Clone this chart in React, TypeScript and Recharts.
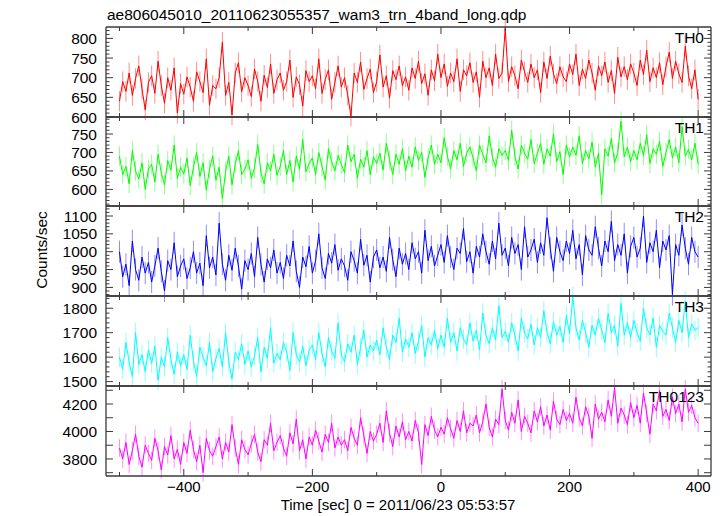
import React from 'react';
import { LineChart, Line, XAxis, YAxis, ErrorBar } from 'recharts';

// light curve bins: 5 s, starting at -500 s
const T_START = -500;
const T_STEP = 5;

const th0 = [
  640, 690, 665, 712, 655, 698, 730, 672, 618, 688,
  705, 660, 742, 680, 635, 700, 668, 725, 610, 685,
  658, 702, 676, 640, 715, 690, 662, 748, 630, 680,
  672, 700, 790, 655, 688, 605, 712, 738, 664, 700,
  680, 652, 722, 690, 640, 706, 675, 735, 660, 695,
  712, 668, 690, 745, 650, 702, 682, 628, 718, 690,
  705, 672, 748, 660, 695, 720, 645, 688, 730, 676,
  700, 655, 602, 712, 688, 740, 670, 698, 722, 662,
  690, 758, 676, 705, 648, 718, 695, 730, 680, 702,
  668, 725, 698, 742, 685, 710, 655, 720, 692, 760,
  700, 735, 678, 712, 690, 748, 665, 720, 705, 738,
  688, 715, 650, 742, 700, 725, 680, 760, 698, 712,
  825, 690, 728, 705, 672, 745, 715, 688, 735, 700,
  720, 662, 740, 698, 755, 710, 685, 728, 702, 690,
  735, 708, 760, 680, 722, 698, 745, 712, 668, 730,
  705, 740, 688, 718, 660, 752, 702, 728, 695, 735,
  712, 680, 745, 708, 770, 690, 725, 700, 738, 682,
  728, 765, 698, 742, 710, 688, 780, 705, 672, 720,
  645,
];

const th1 = [
  690, 640, 662, 615, 705, 650, 628, 672, 600, 655,
  668, 620, 695, 645, 612, 678, 652, 720, 630, 660,
  642, 685, 610, 660, 700, 635, 672, 598, 655, 690,
  625, 660, 575, 648, 690, 612, 668, 705, 640, 655,
  680, 630, 658, 722, 645, 615, 672, 650, 695, 638,
  662, 705, 640, 678, 620, 690, 655, 735, 648, 670,
  685, 640, 700, 662, 625, 710, 675, 650, 692, 668,
  645, 720, 675, 695, 630, 682, 660, 705, 640, 688,
  670, 698, 652, 725, 680, 640, 695, 668, 710, 650,
  690, 660, 715, 678, 700, 632, 685, 720, 668, 695,
  672, 740, 690, 655, 705, 680, 725, 662, 698, 715,
  685, 650, 720, 695, 672, 745, 688, 660, 710, 692,
  705, 678, 760, 690, 655, 720, 698, 682, 735, 670,
  698, 725, 668, 710, 690, 750, 675, 702, 640, 720,
  688, 715, 692, 745, 670, 705, 682, 728, 660, 698,
  585, 710, 690, 738, 672, 700, 785, 688, 715, 675,
  705, 680, 725, 692, 748, 670, 710, 695, 730, 662,
  700, 735, 685, 715, 672, 770, 690, 708, 680, 725,
  668,
];

const th2 = [
  1000, 930, 965, 905, 1030, 950, 920, 985, 940, 970,
  915, 960, 1010, 945, 890, 975, 950, 1025, 930, 960,
  980, 925, 955, 1000, 940, 968, 905, 1045, 955, 985,
  935, 1080, 965, 920, 990, 948, 1010, 960, 895, 975,
  950, 995, 930, 1040, 965, 915, 980, 955, 1005, 940,
  970, 925, 990, 960, 1030, 945, 900, 985, 958, 1015,
  940, 975, 1050, 955, 925, 995, 968, 1020, 948, 980,
  960, 920, 1000, 975, 940, 1035, 962, 990, 915, 985,
  1005, 955, 985, 945, 1040, 978, 930, 1010, 965, 995,
  950, 1025, 980, 1000, 940, 1060, 975, 1015, 960, 990,
  1020, 970, 1045, 985, 950, 1010, 995, 1065, 972, 1000,
  940, 1015, 985, 1050, 1000, 965, 1030, 980, 1080, 990,
  1010, 960, 1040, 995, 1020, 950, 1070, 985, 1005, 1035,
  970, 1025, 990, 1095, 1010, 945, 1040, 1000, 975, 1030,
  995, 1060, 980, 1020, 935, 1045, 1005, 990, 1070, 1010,
  960, 1030, 1000, 1085, 975, 1020, 990, 1050, 940, 1015,
  1040, 985, 1010, 1100, 970, 1025, 1000, 1060, 955, 1030,
  1005, 1045, 880, 1020, 990, 1075, 1010, 965, 1040, 1000,
  985,
];

const th3 = [
  1600, 1550, 1660, 1580, 1520, 1700, 1570, 1610, 1540, 1630,
  1575, 1645, 1505, 1600, 1560, 1680, 1590, 1530, 1620, 1565,
  1610, 1550, 1690, 1585, 1520, 1640, 1600, 1565, 1660, 1540,
  1595, 1635, 1560, 1700, 1580, 1510, 1620, 1590, 1655, 1570,
  1625, 1560, 1605, 1680, 1540, 1640, 1595, 1720, 1575, 1615,
  1590, 1660, 1620, 1545, 1700, 1610, 1580, 1645, 1565, 1630,
  1650, 1590, 1700, 1615, 1560, 1680, 1625, 1595, 1740, 1610,
  1580, 1655, 1620, 1690, 1570, 1640, 1710, 1600, 1650, 1625,
  1670, 1610, 1720, 1640, 1590, 1690, 1660, 1760, 1620, 1675,
  1640, 1700, 1615, 1665, 1730, 1600, 1680, 1650, 1710, 1635,
  1690, 1640, 1760, 1660, 1700, 1625, 1720, 1675, 1650, 1740,
  1665, 1710, 1630, 1780, 1690, 1655, 1720, 1670, 1810, 1680,
  1705, 1660, 1740, 1690, 1625, 1760, 1700, 1675, 1735, 1650,
  1720, 1680, 1790, 1700, 1655, 1745, 1690, 1725, 1660, 1770,
  1695, 1848, 1720, 1670, 1750, 1700, 1640, 1730, 1690, 1760,
  1710, 1660, 1780, 1700, 1730, 1645, 1820, 1690, 1740, 1680,
  1750, 1700, 1665, 1800, 1720, 1690, 1760, 1640, 1730, 1705,
  1690, 1780, 1720, 1660, 1750, 1700, 1830, 1680, 1735, 1710,
  1720,
];

const th0123 = [
  3880, 3800, 3920, 3760, 3860, 3980, 3820, 3740, 3900, 3840,
  3790, 3950, 3860, 3720, 3890, 3830, 3970, 3800, 3870, 3760,
  3920, 3840, 4010, 3870, 3780, 3900, 3700, 3950, 3860, 3820,
  3890, 3960, 3800, 3920, 3850, 4050, 3880, 3760, 3940, 3870,
  3830, 3910, 3980, 3850, 3780, 3940, 3900, 4060, 3860, 3920,
  3970, 3880, 3820, 3990, 3910, 4090, 3860, 3940, 3800, 3960,
  3900, 4010, 3930, 3850, 3980, 3920, 4060, 3880, 3960, 3900,
  3940, 3860, 4030, 3950, 3900, 4100, 3970, 3840, 4000, 3930,
  3980, 4060, 3920, 4150, 3990, 3890, 4040, 3960, 4070, 3940,
  4000, 3930, 4080, 3990, 3760, 4050, 3970, 4110, 4010, 3960,
  4030, 3980, 4100, 4020, 3950, 4080, 4000, 4150, 3990, 4060,
  4040, 4120, 3990, 4070, 4200, 4030, 3960, 4090, 4050, 4310,
  4080, 4010, 4140, 4060, 4230, 4000, 4110, 4060, 3990, 4150,
  4070, 4180, 4040, 4120, 4010, 4220, 4090, 4050, 4160, 4080,
  4130, 4060, 4250, 4100, 4040, 4180, 4110, 3950, 4200, 4090,
  4140, 4070, 4230, 4110, 4320, 4060, 4170, 4120, 4050, 4210,
  4100, 4190, 4060, 4280, 4130, 3980, 4200, 4150, 4300, 4110,
  4160, 4080, 4250, 4130, 4200, 4070, 4310, 4140, 4190, 4100,
  4060,
];

// typical 1-sigma error per band (counts/sec)
const ERRORS = [26, 26, 31, 40, 64];

const TIMES = th0.map((_, i) => T_START + i * T_STEP);

const X_DOMAIN: [number, number] = [-521, 420];
const X_LABELS = [-400, -200, 0, 200, 400];
const X_TICKS = [-500, -400, -300, -200, -100, 0, 100, 200, 300, 400];

const FONT = '"Liberation Sans", Arial, Helvetica, sans-serif';
const FS = 15;
const TICK_COLOR = '#3a3a3a';
const LEFT = 106;
const RIGHT = 711;
const W = 724;

interface Panel {
  name: string;
  values: number[];
  err: number;
  color: string;
  domain: [number, number];
  labels: number[];
  major: number;
  minor: number;
  top: number;
  height: number;
}

const panels: Panel[] = [
  { name: 'TH0', values: th0, err: ERRORS[0], color: '#ff0000', domain: [600, 829], labels: [600, 650, 700, 750, 800], major: 50, minor: 10, top: 27, height: 90 },
  { name: 'TH1', values: th1, err: ERRORS[1], color: '#00ff00', domain: [555, 796], labels: [600, 650, 700, 750], major: 50, minor: 10, top: 117, height: 89 },
  { name: 'TH2', values: th2, err: ERRORS[2], color: '#0000ff', domain: [876, 1128], labels: [900, 950, 1000, 1050, 1100], major: 50, minor: 10, top: 206, height: 90 },
  { name: 'TH3', values: th3, err: ERRORS[3], color: '#00ffff', domain: [1482, 1850], labels: [1500, 1600, 1700, 1800], major: 100, minor: 20, top: 296, height: 90 },
  { name: 'TH0123', values: th0123, err: ERRORS[4], color: '#ff00ff', domain: [3676, 4331], labels: [3800, 4000, 4200], major: 100, minor: 100, top: 386, height: 90 },
];

const minorTicks = (p: Panel) => {
  const out: number[] = [];
  const start = Math.ceil(p.domain[0] / p.minor) * p.minor;
  for (let v = start; v <= p.domain[1]; v += p.minor) out.push(v);
  return out;
};

const isMultiple = (v: number, step: number) => Math.abs(v / step - Math.round(v / step)) < 1e-6;

const fmt = (v: number) => (v < 0 ? '\u2212' + Math.abs(v) : String(v));

const YTick = (props: any) => {
  const { x, y, payload, side, panel } = props;
  const v = payload.value;
  const len = isMultiple(v, panel.major) ? 7 : 3.5;
  const dir = side === 'left' ? 1 : -1;
  return (
    <g>
      <line x1={x} x2={x + dir * len} y1={y} y2={y} stroke={TICK_COLOR} strokeWidth={1} />
      {side === 'left' && panel.labels.includes(v) && (
        <text x={x - 9} y={y} dy="0.36em" textAnchor="end" fontFamily={FONT} fontSize={15.5} fill="#000">
          {v}
        </text>
      )}
    </g>
  );
};

const XTick = (props: any) => {
  const { x, y, payload, side, showLabel } = props;
  const v = payload.value;
  const len = isMultiple(v, 200) ? 7 : 4;
  const dir = side === 'top' ? 1 : -1;
  return (
    <g>
      <line x1={x} x2={x} y1={y} y2={y + dir * len} stroke={TICK_COLOR} strokeWidth={1} />
      {showLabel && X_LABELS.includes(v) && (
        <text x={x} y={y + 16} textAnchor="middle" fontFamily={FONT} fontSize={FS} fill="#000">
          {fmt(v)}
        </text>
      )}
    </g>
  );
};

const PanelChart = ({ panel, last }: { panel: Panel; last: boolean }) => {
  const mTop = 20;
  const mBottom = last ? 30 : 20;
  const data = TIMES.map((t, i) => ({ t, v: panel.values[i], e: panel.err }));
  const yTicks = minorTicks(panel);
  const axisLine = { stroke: TICK_COLOR, strokeWidth: 1.3 };
  return (
    <div style={{ position: 'absolute', left: 0, top: panel.top - mTop }}>
      <LineChart
        width={W}
        height={panel.height + mTop + mBottom}
        data={data}
        margin={{ top: mTop - 1, bottom: mBottom - 1, left: LEFT - 1, right: W - RIGHT - 1 }}
      >
        <XAxis
          dataKey="t"
          type="number"
          domain={X_DOMAIN}
          allowDataOverflow
          ticks={X_TICKS}
          interval={0}
          height={1}
          tickSize={0}
          tickMargin={0}
          axisLine={axisLine}
          tickLine={false}
          tick={(p: any) => <XTick {...p} side="bottom" showLabel={last} />}
        />
        <XAxis
          xAxisId="top"
          orientation="top"
          dataKey="t"
          type="number"
          domain={X_DOMAIN}
          allowDataOverflow
          ticks={X_TICKS}
          interval={0}
          height={1}
          tickSize={0}
          tickMargin={0}
          axisLine={axisLine}
          tickLine={false}
          tick={(p: any) => <XTick {...p} side="top" showLabel={false} />}
        />
        <YAxis
          type="number"
          domain={panel.domain}
          allowDataOverflow
          ticks={yTicks}
          interval={0}
          width={1}
          tickSize={0}
          tickMargin={0}
          axisLine={axisLine}
          tickLine={false}
          tick={(p: any) => <YTick {...p} side="left" panel={panel} />}
        />
        <YAxis
          yAxisId="r"
          orientation="right"
          type="number"
          domain={panel.domain}
          allowDataOverflow
          ticks={yTicks}
          interval={0}
          width={1}
          tickSize={0}
          tickMargin={0}
          axisLine={axisLine}
          tickLine={false}
          tick={(p: any) => <YTick {...p} side="right" panel={panel} />}
        />
        <Line
          type="linear"
          dataKey="v"
          stroke={panel.color}
          strokeWidth={1}
          dot={false}
          activeDot={false}
          isAnimationActive={false}
        >
          <ErrorBar dataKey="e" width={0} stroke={panel.color} strokeOpacity={0.45} strokeWidth={1} direction="y" />
        </Line>
      </LineChart>
    </div>
  );
};

export default function App() {
  return (
    <div style={{ position: 'absolute', left: 0, top: 0, width: W, height: 516, background: '#fff' }}>
      {panels.map((p, i) => (
        <PanelChart key={p.name} panel={p} last={i === panels.length - 1} />
      ))}
      <svg width={W} height={516} style={{ position: 'absolute', left: 0, top: 0, pointerEvents: 'none' }}>
        <text x={107} y={20} fontFamily={FONT} fontSize={15.5} fill="#000">
          ae806045010_20110623055357_wam3_trn_4band_long.qdp
        </text>
        {panels.map((p) => (
          <text key={p.name} x={704} y={p.top + 16} textAnchor="end" fontFamily={FONT} fontSize={15.5} fill="#000">
            {p.name}
          </text>
        ))}
        <text
          x={47}
          y={250}
          transform="rotate(-90 47 250)"
          textAnchor="middle"
          fontFamily={FONT}
          fontSize={15.5}
          fill="#000"
        >
          Counts/sec
        </text>
        <text x={398} y={509.5} textAnchor="middle" fontFamily={FONT} fontSize={FS} fill="#000">
          Time [sec] 0 = 2011/06/23 05:53:57
        </text>
      </svg>
    </div>
  );
}
